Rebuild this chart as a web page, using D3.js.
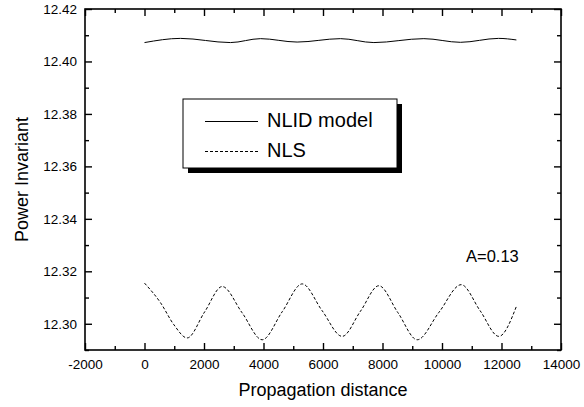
<!DOCTYPE html>
<html>
<head>
<meta charset="utf-8">
<script src="https://cdn.jsdelivr.net/npm/d3@7"></script>
<style>
  html, body { margin: 0; padding: 0; background: #fff; }
  svg { display: block; font-family: "Liberation Sans", Arial, sans-serif; }
</style>
</head>
<body>
<svg id="chart" width="584" height="407"></svg>
<script>
// ---- data ----
const xTicks = [-2000, 0, 2000, 4000, 6000, 8000, 10000, 12000, 14000];
const xMinorTicks = [-1000, 1000, 3000, 5000, 7000, 9000, 11000, 13000];
const yTicks = [12.30, 12.32, 12.34, 12.36, 12.38, 12.40, 12.42];
const yMinorTicks = [12.29, 12.31, 12.33, 12.35, 12.37, 12.39, 12.41];

const nlidX = [0, 1210, 2890, 3900, 5130, 6590, 7710, 9390, 10620, 11900, 12500];
const nlidY = [12.4072, 12.4088, 12.4072, 12.4087, 12.4074, 12.4087, 12.4072, 12.4087, 12.4073, 12.4088, 12.4082];

const nlsX = [0, 540, 990, 1435, 2020, 2612, 3280, 3956, 4630, 5301, 5970, 6645, 7260, 7876, 8520, 9166, 9900, 10645, 11280, 11909, 12500];
const nlsY = [12.3155, 12.3080, 12.2996, 12.2946, 12.3045, 12.3142, 12.3042, 12.2939, 12.3046, 12.3152, 12.3050, 12.2952, 12.3048, 12.3145, 12.3042, 12.2939, 12.3044, 12.3149, 12.3050, 12.2952, 12.3066];

const seriesNames = ["NLID model", "NLS"];
const xTitle = "Propagation distance";
const yTitle = "Power Invariant";
const annotation = "A=0.13";

// ---- layout ----
const L = 85, R = 561, T = 9, B = 350;
const svg = d3.select("#chart");
const x = d3.scaleLinear().domain([-2000, 14000]).range([L, R]);
const y = d3.scaleLinear().domain([12.29, 12.42]).range([B, T]);

function styleAxis(g, fs) {
  g.select(".domain").remove();
  g.selectAll("line").attr("stroke", "#000").attr("stroke-width", 1.4);
  g.selectAll("text").attr("font-size", fs).attr("fill", "#000")
    .attr("font-family", "Liberation Sans, Arial, sans-serif");
}

// bottom
svg.append("g").attr("transform", `translate(0,${B})`)
  .call(d3.axisBottom(x).tickValues(xTicks).tickSize(-7).tickPadding(9).tickFormat(d => String(d)))
  .call(g => styleAxis(g, 13.5));
svg.append("g").attr("transform", `translate(0,${B})`)
  .call(d3.axisBottom(x).tickValues(xMinorTicks).tickSize(-4).tickFormat(""))
  .call(g => styleAxis(g, 13.5));
// top
svg.append("g").attr("transform", `translate(0,${T})`)
  .call(d3.axisTop(x).tickValues(xTicks).tickSize(-7).tickFormat(""))
  .call(g => styleAxis(g, 13.5));
svg.append("g").attr("transform", `translate(0,${T})`)
  .call(d3.axisTop(x).tickValues(xMinorTicks).tickSize(-4).tickFormat(""))
  .call(g => styleAxis(g, 13.5));
// left
svg.append("g").attr("transform", `translate(${L},0)`)
  .call(d3.axisLeft(y).tickValues(yTicks).tickSize(-7).tickPadding(8).tickFormat(d => d.toFixed(2)))
  .call(g => styleAxis(g, 13.5));
svg.append("g").attr("transform", `translate(${L},0)`)
  .call(d3.axisLeft(y).tickValues(yMinorTicks).tickSize(-4).tickFormat(""))
  .call(g => styleAxis(g, 13.5));
// right
svg.append("g").attr("transform", `translate(${R},0)`)
  .call(d3.axisRight(y).tickValues(yTicks).tickSize(-7).tickFormat(""))
  .call(g => styleAxis(g, 13.5));
svg.append("g").attr("transform", `translate(${R},0)`)
  .call(d3.axisRight(y).tickValues(yMinorTicks).tickSize(-4).tickFormat(""))
  .call(g => styleAxis(g, 13.5));

// frame
svg.append("rect").attr("x", L).attr("y", T).attr("width", R - L).attr("height", B - T)
  .attr("fill", "none").attr("stroke", "#000").attr("stroke-width", 1.6);

// lines
const line = d3.line().x(d => x(d[0])).y(d => y(d[1])).curve(d3.curveMonotoneX);
svg.append("path").datum(nlidX.map((v, i) => [v, nlidY[i]]))
  .attr("d", line).attr("fill", "none").attr("stroke", "#000").attr("stroke-width", 1);
svg.append("path").datum(nlsX.map((v, i) => [v, nlsY[i]]))
  .attr("d", line).attr("fill", "none").attr("stroke", "#000").attr("stroke-width", 1)
  .attr("stroke-dasharray", "3,2");

// legend
const lg = svg.append("g");
lg.append("rect").attr("x", 188).attr("y", 104).attr("width", 214).attr("height", 69).attr("fill", "#000");
lg.append("rect").attr("x", 183).attr("y", 99).attr("width", 214).attr("height", 69)
  .attr("fill", "#fff").attr("stroke", "#000").attr("stroke-width", 1);
lg.append("line").attr("x1", 205).attr("x2", 258).attr("y1", 121.5).attr("y2", 121.5)
  .attr("stroke", "#000").attr("stroke-width", 1);
lg.append("line").attr("x1", 205).attr("x2", 258).attr("y1", 151.5).attr("y2", 151.5)
  .attr("stroke", "#000").attr("stroke-width", 1).attr("stroke-dasharray", "3,2");
lg.append("text").attr("x", 267).attr("y", 127).attr("font-size", 20).text(seriesNames[0]);
lg.append("text").attr("x", 267).attr("y", 157).attr("font-size", 20).text(seriesNames[1]);

// annotation
svg.append("text").attr("x", 466).attr("y", 261.5).attr("font-size", 16.5).text(annotation);

// axis titles
svg.append("text").attr("x", (L + R) / 2).attr("y", 396).attr("text-anchor", "middle")
  .attr("font-size", 18).text(xTitle);
svg.append("text").attr("transform", `translate(28,${(T + B) / 2}) rotate(-90)`)
  .attr("text-anchor", "middle").attr("font-size", 18).text(yTitle);
</script>
</body>
</html>
